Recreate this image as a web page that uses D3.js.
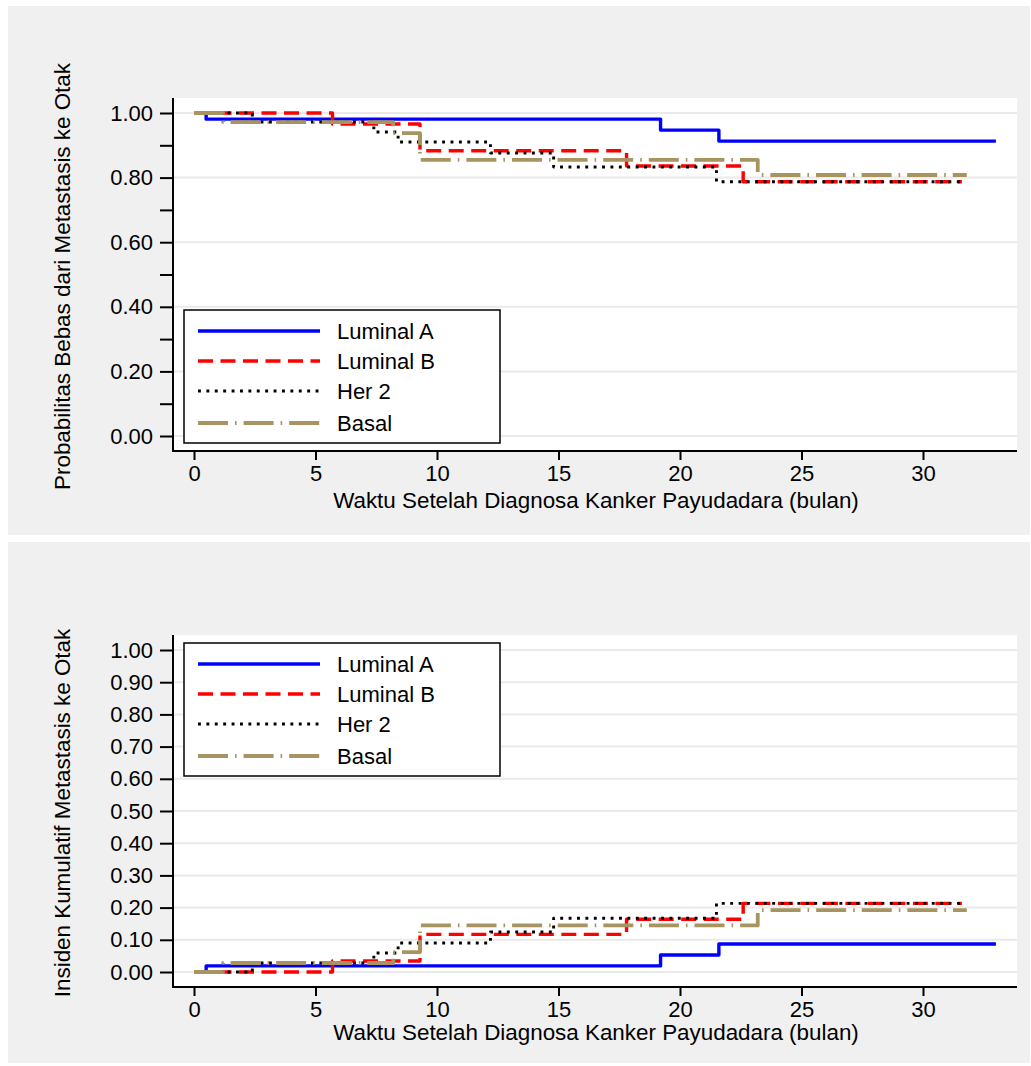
<!DOCTYPE html>
<html>
<head>
<meta charset="utf-8">
<script src="https://cdn.jsdelivr.net/npm/d3@7"></script>
<style>
	body { margin: 0; background: #fff; }
	svg { display: block; }
	text { font-family: "Liberation Sans", Arial, sans-serif; fill: #000; }
</style>
</head>
<body>
<script>
// data
var monthTicks = [0, 5, 10, 15, 20, 25, 30];
var survTicks = [0, 0.2, 0.4, 0.6, 0.8, 1.0];
var survMinor = [0.1, 0.3, 0.5, 0.7, 0.9];
var cumTicks = [0, 0.1, 0.2, 0.3, 0.4, 0.5, 0.6, 0.7, 0.8, 0.9, 1.0];

var groupNames = ['Luminal A', 'Luminal B', 'Her 2', 'Basal'];

// event times (months) and last follow-up per group
var timesLumA = [0, 0.5, 19.2, 21.6];
var timesLumB = [0, 5.7, 9.3, 17.8, 22.6];
var timesHer2 = [0, 2.4, 7.4, 8.4, 12.2, 14.8, 21.5];
var timesBasal = [0, 1.2, 8.2, 9.3, 23.2];
var endTimes = [33.0, 31.6, 31.6, 31.8];

// brain-metastasis-free probability
var survLumA = [1.00, 0.981, 0.947, 0.913];
var survLumB = [1.00, 0.966, 0.883, 0.836, 0.787];
var survHer2 = [1.00, 0.972, 0.941, 0.910, 0.876, 0.833, 0.787];
var survBasal = [1.00, 0.972, 0.938, 0.855, 0.808];

// cumulative incidence of brain metastasis
var cumLumA = [0, 0.019, 0.053, 0.087];
var cumLumB = [0, 0.034, 0.117, 0.164, 0.213];
var cumHer2 = [0, 0.028, 0.059, 0.090, 0.124, 0.167, 0.213];
var cumBasal = [0, 0.028, 0.062, 0.145, 0.192];

// styles
var lineStyles = [
	{ color: '#0000ff', width: 3.4, dash: null },
	{ color: '#ff0000', width: 3.4, dash: '15,7.5' },
	{ color: '#000000', width: 2.9, dash: '2.9,5.5' },
	{ color: '#a89460', width: 3.8, dash: '30,7,1.6,7' },
];

var W = 1031, H = 1066;
var svg = d3.select('body').append('svg')
	.attr('width', W)
	.attr('height', H);

function makeSeries(timesList, valuesList) {
	return groupNames.map(function (name, i) {
		var pts = timesList[i].map(function (t, j) { return [t, valuesList[i][j]]; });
		pts.push([endTimes[i], valuesList[i][valuesList[i].length - 1]]);
		return { name: name, points: pts, style: lineStyles[i] };
	});
}

function drawPanel(cfg) {
	var g = svg.append('g');

	// panel background
	g.append('rect')
		.attr('x', 8).attr('y', cfg.panelTop)
		.attr('width', 1022).attr('height', cfg.panelBottom - cfg.panelTop)
		.attr('fill', '#f0f0f0');

	var x = d3.scaleLinear().domain([0, 30]).range([194, 923]);
	var y = d3.scaleLinear().domain([0, 1]).range([cfg.y0, cfg.y1]);

	var left = 173, right = 1017;
	var top = y(1) - 15, bottom = y(0) + 15;

	g.append('rect')
		.attr('x', left).attr('y', top)
		.attr('width', right - left).attr('height', bottom - top)
		.attr('fill', '#fff');

	// grid
	g.selectAll('.grid')
		.data(cfg.grid)
		.enter().append('line')
		.attr('x1', left).attr('x2', right)
		.attr('y1', function (d) { return y(d); })
		.attr('y2', function (d) { return y(d); })
		.attr('stroke', '#eaeaea')
		.attr('stroke-width', 2);

	// axes
	var yAxis = d3.axisLeft(y)
		.tickValues(cfg.ticks)
		.tickSize(13)
		.tickPadding(7)
		.tickFormat(d3.format('.2f'));
	var ya = g.append('g')
		.attr('transform', 'translate(' + left + ',0)')
		.call(yAxis);
	ya.select('.domain').remove();
	ya.selectAll('.tick line').attr('stroke-width', 2);
	ya.selectAll('.tick text').style('font-size', '22px').attr('font-family', null);

	if (cfg.minor) {
		g.append('g')
			.attr('transform', 'translate(' + left + ',0)')
			.call(d3.axisLeft(y).tickValues(cfg.minor).tickSize(13).tickFormat(''))
			.call(function (s) {
				s.select('.domain').remove();
				s.selectAll('.tick line').attr('stroke-width', 2);
			});
	}

	var xAxis = d3.axisBottom(x)
		.tickValues(monthTicks)
		.tickSize(9)
		.tickPadding(5)
		.tickFormat(d3.format('d'));
	var xa = g.append('g')
		.attr('transform', 'translate(0,' + bottom + ')')
		.call(xAxis);
	xa.select('.domain').remove();
	xa.selectAll('.tick line').attr('stroke-width', 2);
	xa.selectAll('.tick text').style('font-size', '22px').attr('font-family', null);

	g.append('line')
		.attr('x1', left).attr('x2', left)
		.attr('y1', top).attr('y2', bottom + 1)
		.attr('stroke', '#000').attr('stroke-width', 2);
	g.append('line')
		.attr('x1', left - 1).attr('x2', right)
		.attr('y1', bottom).attr('y2', bottom)
		.attr('stroke', '#000').attr('stroke-width', 2);

	// titles
	g.append('text')
		.attr('x', 596)
		.attr('y', bottom + cfg.xtitleOff)
		.attr('text-anchor', 'middle')
		.style('font-size', '22.4px')
		.text('Waktu Setelah Diagnosa Kanker Payudadara (bulan)');
	g.append('text')
		.attr('transform', 'translate(70,' + ((top + bottom) / 2 + 2) + ') rotate(-90)')
		.attr('text-anchor', 'middle')
		.style('font-size', '22.4px')
		.text(cfg.ytitle);

	// curves
	var line = d3.line()
		.curve(d3.curveStepAfter)
		.x(function (d) { return x(d[0]); })
		.y(function (d) { return y(d[1]); });

	cfg.series.forEach(function (s) {
		g.append('path')
			.datum(s.points)
			.attr('d', line)
			.attr('fill', 'none')
			.attr('stroke', s.style.color)
			.attr('stroke-width', s.style.width)
			.attr('stroke-dasharray', s.style.dash)
			.attr('stroke-linejoin', 'round');
	});

	// legend
	var lg = g.append('g')
		.attr('transform', 'translate(184,' + cfg.legendTop + ')');
	lg.append('rect')
		.attr('x', 0).attr('y', 0)
		.attr('width', 316).attr('height', 133)
		.attr('fill', '#fff')
		.attr('stroke', '#000')
		.attr('stroke-width', 1.5);
	var rows = lg.selectAll('.row')
		.data(cfg.series)
		.enter().append('g')
		.attr('transform', function (d, i) { return 'translate(0,' + [21, 51, 81, 113][i] + ')'; });
	rows.append('line')
		.attr('x1', 14).attr('x2', 136)
		.attr('y1', 0).attr('y2', 0)
		.attr('stroke', function (d) { return d.style.color; })
		.attr('stroke-width', function (d) { return d.style.width; })
		.attr('stroke-dasharray', function (d) { return d.style.dash; });
	rows.append('text')
		.attr('x', 153).attr('y', 8)
		.style('font-size', '22px')
		.text(function (d) { return d.name; });
}

drawPanel({
	panelTop: 6, panelBottom: 535,
	y0: 436, y1: 113,
	ticks: survTicks, minor: survMinor, grid: survTicks,
	ytitle: 'Probabilitas Bebas dari Metastasis ke Otak',
	xtitleOff: 57,
	legendTop: 310,
	series: makeSeries([timesLumA, timesLumB, timesHer2, timesBasal],
		[survLumA, survLumB, survHer2, survBasal]),
});

drawPanel({
	panelTop: 542, panelBottom: 1063,
	y0: 972, y1: 650,
	ticks: cumTicks, minor: null, grid: cumTicks,
	ytitle: 'Insiden Kumulatif Metastasis ke Otak',
	xtitleOff: 53,
	legendTop: 643,
	series: makeSeries([timesLumA, timesLumB, timesHer2, timesBasal],
		[cumLumA, cumLumB, cumHer2, cumBasal]),
});
</script>
</body>
</html>
